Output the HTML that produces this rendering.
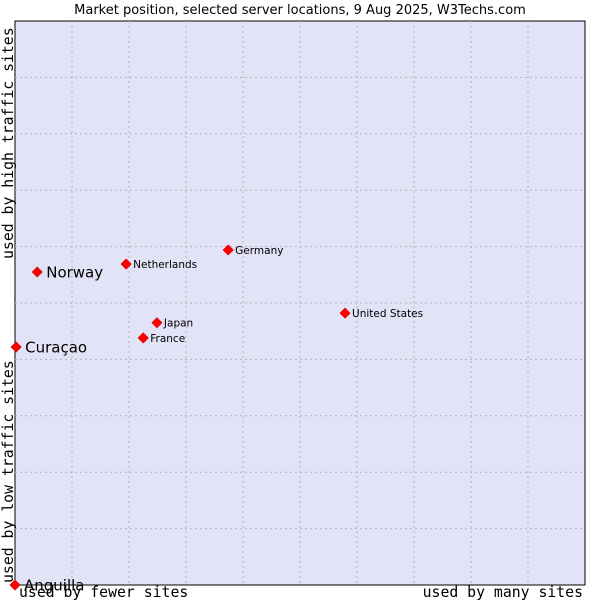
<!DOCTYPE html>
<html><head><meta charset="utf-8"><style>
body{margin:0;background:#fff;width:600px;height:600px;overflow:hidden}
svg{display:block}
</style></head><body>
<svg id="chart" width="600" height="600" xmlns="http://www.w3.org/2000/svg">
<text x="300" y="14" text-anchor="middle" font-family="DejaVu Sans, sans-serif" font-size="13" fill="#000">Market position, selected server locations, 9 Aug 2025, W3Techs.com</text>
<rect x="15" y="21" width="570" height="564" fill="#e3e3f7" stroke="#000" stroke-width="1"/>
<g id="grid"></g>
<g id="marks"></g>
<text x="19" y="597" font-family="DejaVu Sans Mono, monospace" font-size="14.8" fill="#000">used by fewer sites</text>
<text x="583" y="597" text-anchor="end" font-family="DejaVu Sans Mono, monospace" font-size="14.8" fill="#000">used by many sites</text>
<text transform="translate(13,583) rotate(-90)" font-family="DejaVu Sans Mono, monospace" font-size="14.8" fill="#000">used by low traffic sites</text>
<text transform="translate(13,259) rotate(-90)" font-family="DejaVu Sans Mono, monospace" font-size="14.8" fill="#000">used by high traffic sites</text>
</svg>
<script>
const countries=["Norway","Curaçao","Anguilla","Netherlands","Germany","United States","Japan","France"];
const xValues=[3.9,0.2,0,19.5,37.4,57.9,24.9,22.5];
const yValues=[55.5,42.2,0,56.9,59.4,48.2,46.5,43.8];
const bigLabel=[true,true,true,false,false,false,false,false];
const NS="http://www.w3.org/2000/svg";
const L=15,T=21,W=570,H=564;
const xs=v=>L+v/100*W, ys=v=>T+H-v/100*H;
const grid=document.getElementById('grid');
for(let i=1;i<10;i++){
 const v=document.createElementNS(NS,'line');
 
 
 v.setAttribute('x1',xs(i*10));v.setAttribute('x2',xs(i*10));v.setAttribute('y1',T);v.setAttribute('y2',T+H);
 v.setAttribute('stroke','#b4b4b4');v.setAttribute('stroke-dasharray','2,3');grid.appendChild(v);
 const h=document.createElementNS(NS,'line');
 
 
 h.setAttribute('y1',ys(i*10));h.setAttribute('y2',ys(i*10));h.setAttribute('x1',L);h.setAttribute('x2',L+W);
 h.setAttribute('stroke','#b4b4b4');h.setAttribute('stroke-dasharray','2,3');grid.appendChild(h);
}
const marks=document.getElementById('marks');
countries.forEach((c,i)=>{
 const x=xs(xValues[i]),y=ys(yValues[i]);
 const p=document.createElementNS(NS,'polygon');
 
 
 p.setAttribute('points',`${x},${y-5} ${x+5},${y} ${x},${y+5} ${x-5},${y}`);
 p.setAttribute('fill','#ff0000');p.setAttribute('stroke','#dd0000');p.setAttribute('stroke-width','0.8');p.setAttribute('stroke-linejoin','round');
 marks.appendChild(p);
 const t=document.createElementNS(NS,'text');
 
 
 t.setAttribute('x',x+(bigLabel[i]?9:7));
 t.setAttribute('y',y+(bigLabel[i]?5.5:4));
 t.setAttribute('font-family','DejaVu Sans, sans-serif');
 t.setAttribute('font-size',bigLabel[i]?'15':'10.5');
 t.setAttribute('fill','#000');
 t.textContent=c;
 marks.appendChild(t);
});
</script>
</body></html>
